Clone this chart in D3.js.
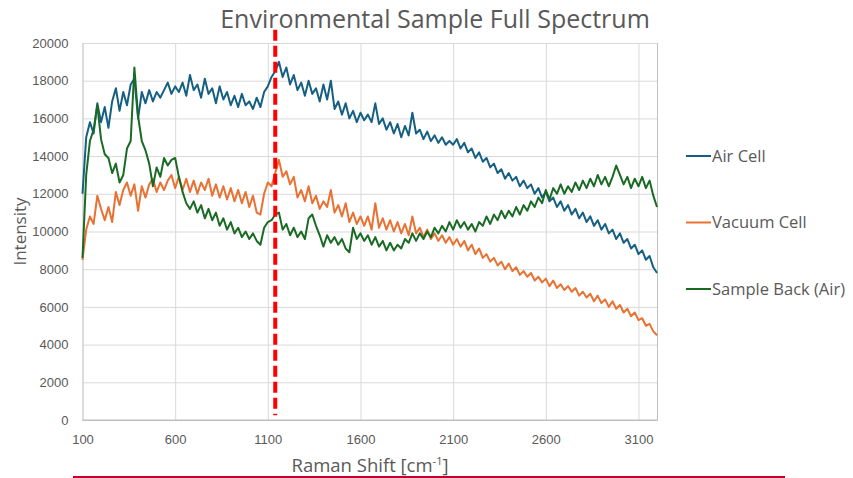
<!DOCTYPE html>
<html>
<head>
<meta charset="utf-8">
<script src="https://cdn.jsdelivr.net/npm/d3@7"></script>
<style>
	body { margin: 0; background: #fff; }
	text { fill: #595959; }
</style>
</head>
<body>
<svg width="853" height="478"></svg>
<script>
//	raman shift in cm-1, one point every 20
var shift = [
	100,120,140,160,180,200,220,240,260,280,
	300,320,340,360,380,400,420,440,460,480,
	500,520,540,560,580,600,620,640,660,680,
	700,720,740,760,780,800,820,840,860,880,
	900,920,940,960,980,1000,1020,1040,1060,1080,
	1100,1120,1140,1160,1180,1200,1220,1240,1260,1280,
	1300,1320,1340,1360,1380,1400,1420,1440,1460,1480,
	1500,1520,1540,1560,1580,1600,1620,1640,1660,1680,
	1700,1720,1740,1760,1780,1800,1820,1840,1860,1880,
	1900,1920,1940,1960,1980,2000,2020,2040,2060,2080,
	2100,2120,2140,2160,2180,2200,2220,2240,2260,2280,
	2300,2320,2340,2360,2380,2400,2420,2440,2460,2480,
	2500,2520,2540,2560,2580,2600,2620,2640,2660,2680,
	2700,2720,2740,2760,2780,2800,2820,2840,2860,2880,
	2900,2920,2940,2960,2980,3000,3020,3040,3060,3080,
	3100,3120,3140,3160,3180,3200
];

var airCell = [
	12000,15000,15800,15200,16800,15800,16600,15500,16900,17600,
	16400,17400,16700,17800,18100,16000,17400,16800,17500,16900,
	17400,17100,17500,17900,17300,17700,17400,17900,17200,18300,
	17500,17800,17100,18100,17300,17600,16800,17700,17000,17400,
	16700,17200,16600,17300,16700,16900,16500,17100,16600,17400,
	17700,18200,18500,19000,18200,18700,17800,18300,17500,17900,
	17200,18000,17300,17600,16900,17800,17000,18000,16500,16900,
	16200,16800,16000,16400,15800,16300,15900,16200,15800,16800,
	15700,16000,15400,15800,15200,15700,15000,15600,15100,16300,
	15200,15400,14900,15300,14800,15100,14700,15000,14600,14800,
	14600,14900,14400,14700,14200,14400,13900,14200,13700,13900,
	13400,13600,13100,13300,12800,13100,12700,12900,12400,12700,
	12300,12500,12000,12300,11800,12100,11600,11800,11300,11600,
	11100,11400,10900,11200,10700,11000,10500,10800,10300,10600,
	10100,10400,9900,10100,9600,9900,9400,9600,9100,9300,
	8800,9000,8500,8700,8100,7800
];

var vacuumCell = [
	8500,10100,10800,10400,11900,11200,10600,11300,10500,12100,
	11400,12200,12600,11900,12500,11100,12400,11800,12500,12800,
	12100,12600,12200,12700,13000,12300,12900,12200,12800,12100,
	12700,12000,12600,12200,12800,11900,12500,11800,12400,11700,
	12300,11600,12200,11500,12100,11300,11900,11000,10900,12000,
	12600,12400,13100,13800,12900,13200,12500,12900,11800,12200,
	11600,12400,11500,11900,11200,11600,11300,12200,11000,11400,
	10800,11500,10500,11000,10400,10800,10300,10800,10100,11500,
	10200,10700,10100,10600,10000,10500,9900,10400,9800,10800,
	9900,10200,9700,10100,9600,9900,9500,9800,9400,9700,
	9300,9600,9200,9500,9000,9300,8800,9100,8600,8800,
	8400,8600,8200,8400,8000,8300,7900,8100,7700,7900,
	7600,7800,7400,7600,7300,7500,7100,7400,7000,7200,
	6900,7100,6800,7000,6600,6800,6500,6700,6300,6600,
	6200,6400,6000,6300,5900,6100,5700,5900,5500,5700,
	5300,5400,5000,5100,4700,4500
];

var sampleBack = [
	8600,13000,14800,15400,16700,14900,14100,13900,13100,13600,
	12600,13000,14400,14800,18700,16100,14800,14300,13600,12400,
	13400,12900,13900,13500,13800,13900,12900,12100,11500,11200,
	11600,11000,11400,10700,11200,10600,11000,10300,10700,10100,
	10500,9900,10200,9700,10000,9600,9900,9500,9300,10200,
	10500,10600,10900,11000,10100,10400,9800,10200,9700,10000,
	9600,10700,10900,10300,9800,9200,9800,9400,9700,9300,
	9600,9100,8900,10200,9600,9900,9500,9800,9300,9700,
	9200,9500,9000,9400,9000,9300,9100,9600,9400,9900,
	9500,9900,9600,10000,9700,10200,9900,10300,10000,10500,
	10100,10600,10200,10500,10100,10400,10000,10500,10300,10800,
	10400,10900,10600,11100,10700,11100,10800,11300,10900,11400,
	11100,11600,11300,11800,11500,12200,11700,12300,12000,12500,
	12000,12400,12100,12600,12200,12700,12300,12800,12400,13000,
	12500,12900,12400,12900,13500,13000,12500,12900,12300,12800,
	12400,12900,12300,12700,11900,11300
];

var seriesNames = ["Air Cell", "Vacuum Cell", "Sample Back (Air)"];
var seriesColors = ["#156082", "#e97132", "#196b24"];
var xTicks = [100, 600, 1100, 1600, 2100, 2600, 3100];
var yTicks = [0, 2000, 4000, 6000, 8000, 10000, 12000, 14000, 16000, 18000, 20000];
//	position of the red marker line
var markerShift = 1140;

var svg = d3.select("svg");
var margin = {top: 43, right: 196, bottom: 58, left: 82.5};
var width = +svg.attr("width") - margin.left - margin.right,
	height = +svg.attr("height") - margin.top - margin.bottom;
var g = svg.append("g").attr("transform", "translate(" + margin.left + "," + margin.top + ")");

var x = d3.scaleLinear().domain([100, 3200]).range([0, width]);
var y = d3.scaleLinear().domain([0, 20000]).range([height, 0]);

//	y axis + horizontal grid
var axisY = g.append("g")
	.call(d3.axisLeft(y).tickValues(yTicks).tickSize(-width).tickPadding(14).tickFormat(d3.format("d")));
axisY.select(".domain").remove();
axisY.selectAll("line").attr("stroke", "#d9d9d9");
axisY.selectAll("text").style("font-family", "Liberation Sans, Arial, sans-serif").style("font-size", "13px").attr("fill", "#595959");

//	x axis + vertical grid
var axisX = g.append("g")
	.attr("transform", "translate(0," + height + ")")
	.call(d3.axisBottom(x).tickValues(xTicks).tickSize(-height).tickPadding(15).tickFormat(d3.format("d")));
axisX.select(".domain").attr("stroke", "#bfbfbf");
axisX.selectAll("line").attr("stroke", "#d9d9d9");
axisX.selectAll("text").style("font-family", "Liberation Sans, Arial, sans-serif").style("font-size", "13px").attr("fill", "#595959");

g.append("line")
	.attr("x1", 0).attr("x2", width)
	.attr("y1", height).attr("y2", height)
	.attr("stroke", "#bfbfbf");

//	the three spectra
var allSeries = [airCell, vacuumCell, sampleBack];
var line = d3.line()
	.x(function(d, i) { return x(shift[i]); })
	.y(function(d) { return y(d); });

g.selectAll(".spectrum")
	.data(allSeries)
	.enter().append("path")
		.attr("class", "spectrum")
		.attr("d", function(d) { return line(d); })
		.attr("fill", "none")
		.attr("stroke", function(d, i) { return seriesColors[i]; })
		.attr("stroke-width", 2)
		.attr("stroke-linejoin", "round");

//	red dashed marker
g.append("line")
	.attr("x1", x(markerShift)).attr("x2", x(markerShift))
	.attr("y1", y(20700)).attr("y2", y(250))
	.attr("stroke", "#ff0000")
	.attr("stroke-width", 4)
	.attr("stroke-dasharray", "11,5");

//	titles
svg.append("text")
	.attr("x", 435).attr("y", 28)
	.attr("text-anchor", "middle")
	.style("font-family", "Open Sans, sans-serif")
	.style("font-size", "25px")
	.text("Environmental Sample Full Spectrum");

svg.append("text")
	.attr("transform", "translate(26," + (margin.top + height / 2) + ") rotate(-90)")
	.attr("text-anchor", "middle")
	.style("font-family", "Open Sans, sans-serif")
	.style("font-size", "17px")
	.text("Intensity");

var xTitle = svg.append("text")
	.attr("x", 370).attr("y", 472)
	.attr("text-anchor", "middle")
	.style("font-family", "Open Sans, sans-serif")
	.style("font-size", "18.5px");
xTitle.append("tspan").text("Raman Shift [cm");
xTitle.append("tspan").attr("dy", -7).style("font-size", "11px").text("-1");
xTitle.append("tspan").attr("dy", 7).text("]");

//	legend
var legend = svg.append("g").selectAll("g")
	.data(seriesNames)
	.enter().append("g")
		.attr("transform", function(d, i) { return "translate(686," + (156 + i * 66.5) + ")"; });
legend.append("line")
	.attr("x1", 0).attr("x2", 25)
	.attr("stroke", function(d, i) { return seriesColors[i]; })
	.attr("stroke-width", 2);
legend.append("text")
	.attr("x", 26).attr("dy", "0.35em")
	.style("font-family", "Open Sans, sans-serif")
	.style("font-size", "16.5px")
	.text(function(d) { return d; });

//	slide rule under the chart
svg.append("line")
	.attr("x1", 73).attr("x2", 785)
	.attr("y1", 477).attr("y2", 477)
	.attr("stroke", "#c00030")
	.attr("stroke-width", 2);
</script>
</body>
</html>
